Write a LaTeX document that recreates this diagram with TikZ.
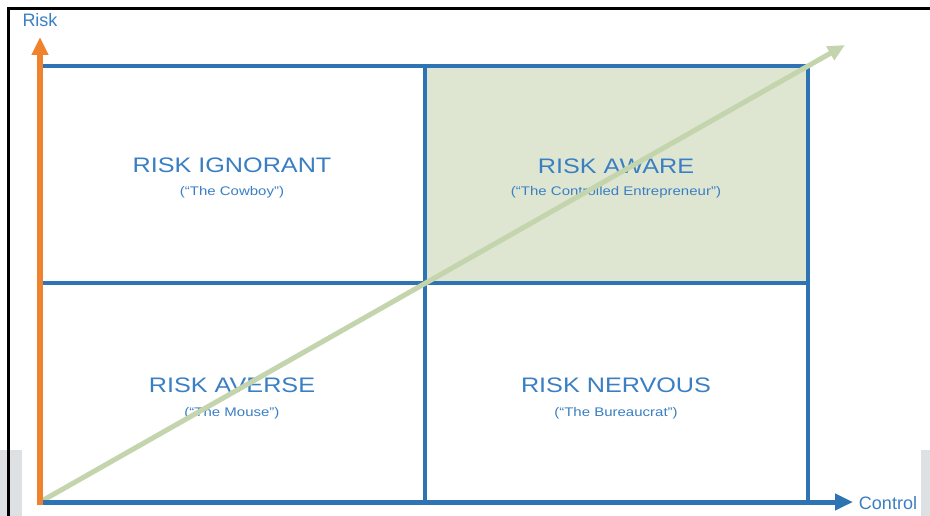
\documentclass[tikz,border=0pt]{standalone}
\usepackage{fontspec}
\setmainfont{Liberation Sans}
\newfontfamily\quadfont[FakeStretch=1.2]{Liberation Sans}
\usepackage{xcolor}
\usepackage{tikz}
\usetikzlibrary{arrows.meta}

\definecolor{textblue}{HTML}{3A7FC3}
\definecolor{lineblue}{HTML}{2E74B5}
\definecolor{riskorange}{HTML}{F0822D}
\definecolor{diaggreen}{HTML}{C4D4AD}
\definecolor{cellfill}{HTML}{DEE6D2}
\definecolor{framegray}{HTML}{DDE1E4}

\tikzset{
  gridline/.style={lineblue, line width=3.5},
  quadtitle/.style={font=\quadfont\fontsize{21}{21}\selectfont, text=textblue, inner sep=0pt, anchor=base},
  quadsub/.style={font=\quadfont\fontsize{12.5}{12.5}\selectfont, text=textblue, inner sep=0pt, anchor=base},
  axislabel/.style={font=\fontsize{18}{18}\selectfont, text=textblue, inner sep=0pt, anchor=base},
}

\begin{document}
\begin{tikzpicture}[x=1pt, y=-1pt]
    \useasboundingbox (0,0) rectangle (930,516);
    \fill[white] (0,0) rectangle (930,516);
    % screenshot frame
    \fill[framegray] (0,450) rectangle (22,516);
    \fill[framegray] (921,450) rectangle (930,516);
    \draw[line width=3] (8.5,516) -- (8.5,8.5) -- (930,8.5);
    % quadrants
    \fill[cellfill] (425,66) rectangle (808,283);
    \draw[gridline] (40,66) -- (808,66) -- (808,502);
    \draw[gridline] (425,66) -- (425,502);
    \draw[gridline] (40,283) -- (808,283);
    \node[quadtitle] (ignorant) at (232,173) {RISK IGNORANT};
    \node[quadsub] (cowboy) at (232,196) {(“The Cowboy”)};
    \node[quadtitle] (aware) at (616,174) {RISK AWARE};
    \node[quadsub] (entrepreneur) at (616,196) {(“The Controlled Entrepreneur”)};
    \node[quadtitle] (averse) at (232,392) {RISK AVERSE};
    \node[quadsub] (mouse) at (232,416) {(“The Mouse”)};
    \node[quadtitle] (nervous) at (616,392) {RISK NERVOUS};
    \node[quadsub] (bureaucrat) at (616,416) {(“The Bureaucrat”)};
    % axes
    \coordinate (origin) at (40,502);
    \coordinate (risktip) at (40,37);
    \coordinate (controltip) at (853,502);
    \coordinate (diagtip) at (845,45);
    \draw[diaggreen, line width=5, -{Triangle[length=17pt, width=15pt]}] (origin) -- (diagtip);
    \draw[lineblue, line width=5, -{Triangle[length=18pt, width=16pt]}] (origin) -- (controltip);
    \draw[riskorange, line width=6, -{Triangle[length=18pt, width=16pt]}] (40,505) -- (risktip);
    \node[axislabel] (risk) at (40,27) {Risk};
    \node[axislabel] (control) at (888,509) {Control};
\end{tikzpicture}
\end{document}
